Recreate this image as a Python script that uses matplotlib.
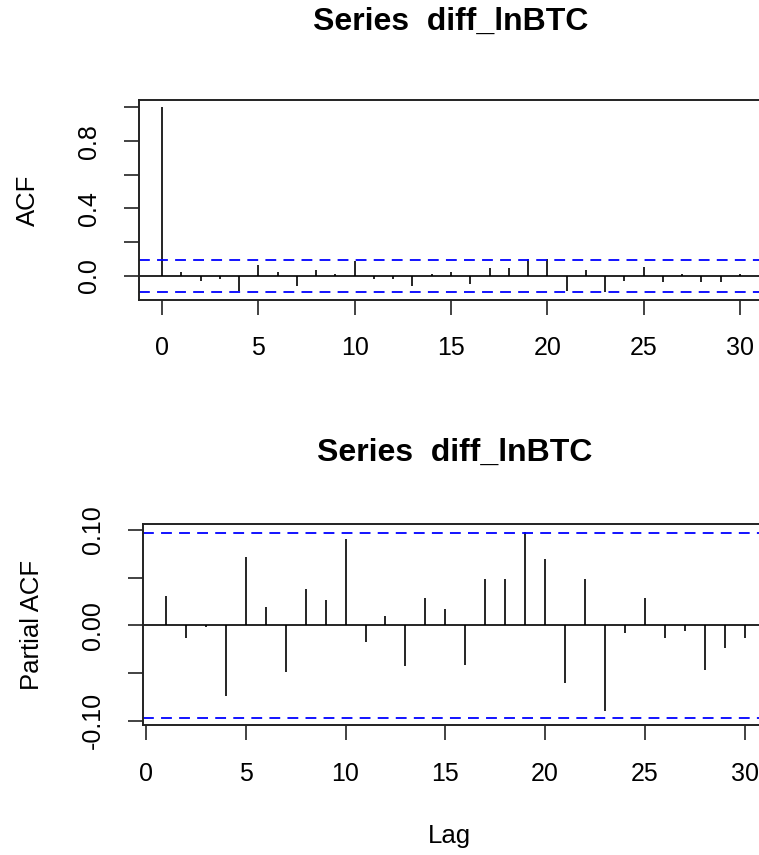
"""ACF / PACF of diff_lnBTC, redrawn in the style of R's acf() base graphics."""

import matplotlib
matplotlib.use("Agg")
import matplotlib.pyplot as plt

plt.rcParams["font.family"] = ["Liberation Sans", "DejaVu Sans"]

W, H, DPI = 759, 855, 100  # output pixels

# ---------------------------------------------------------------------------
# data
# ---------------------------------------------------------------------------
acf_lags = list(range(0, 31))
acf_vals = [1.0, 0.024, -0.028, -0.018, -0.090, 0.064, 0.024, -0.058, 0.032, 0.012,
            0.088, -0.018, -0.018, -0.058, 0.012, 0.024, -0.048, 0.044, 0.044, 0.097,
            0.097, -0.088, 0.032, -0.096, -0.028, 0.054, -0.038, 0.012, -0.038, -0.038,
            0.012]

pacf_lags = list(range(1, 31))
pacf_vals = [0.031, -0.013, -0.002, -0.074, 0.072, 0.019, -0.049, 0.038, 0.026, 0.090,
             -0.018, 0.010, -0.043, 0.029, 0.017, -0.042, 0.049, 0.049, 0.098, 0.069,
             -0.060, 0.049, -0.090, -0.008, 0.029, -0.013, -0.006, -0.047, -0.024, -0.013]

ci = 0.0967  # 1.96 / sqrt(n)

series_title = "Series  diff_lnBTC"
acf_yticks = [0.0, 0.2, 0.4, 0.6, 0.8, 1.0]
acf_ytick_labels = ["0.0", "", "0.4", "", "0.8", ""]
pacf_yticks = [-0.10, -0.05, 0.0, 0.05, 0.10]
pacf_ytick_labels = ["-0.10", "", "0.00", "", "0.10"]
xticks = [0, 5, 10, 15, 20, 25, 30]


def r_range(lo, hi):
    # R pads axis limits by 4% on each side
    pad = 0.04 * (hi - lo)
    return lo - pad, hi + pad


def px_axes(fig, left, top, width, height):
    return fig.add_axes([left / W, 1 - (top + height) / H, width / W, height / H])


def draw_panel(ax, lags, vals, yticks, ylabels):
    ax.vlines(lags, 0, vals, color="black", lw=1.2)
    ax.axhline(0, color="black", lw=1.2)
    for c in (ci, -ci):
        ax.axhline(c, color="blue", lw=1.3, dashes=(6, 4))
    ax.set_xlim(*r_range(min(lags), max(lags)))
    ax.set_ylim(*r_range(min(min(vals), -ci), max(max(vals), ci)))
    ax.set_xticks(xticks)
    ax.set_xticklabels([str(t) for t in xticks])
    ax.set_yticks(yticks)
    ax.set_yticklabels(ylabels, rotation=90, va="center", ha="right")
    ax.tick_params(axis="both", direction="out", length=10.5, width=1.2,
                   labelsize=18, color="#222222")
    ax.tick_params(axis="x", pad=16)
    ax.tick_params(axis="y", pad=17)
    for sp in ax.spines.values():
        sp.set_linewidth(1.4)
        sp.set_color("#222222")


fig = plt.figure(figsize=(W / DPI, H / DPI), dpi=DPI)

# top: ACF (plot box runs past the right edge, as in the reference crop)
ax1 = px_axes(fig, 139, 100, 624, 199.5)
draw_panel(ax1, acf_lags, acf_vals, acf_yticks, acf_ytick_labels)

# bottom: PACF
ax2 = px_axes(fig, 142.8, 524.3, 625, 200.7)
draw_panel(ax2, pacf_lags, pacf_vals, pacf_yticks, pacf_ytick_labels)

# titles and axis labels placed in pixel space
fig.text(451 / W, 1 - 30 / H, series_title, ha="center", va="baseline",
         fontsize=23, fontweight="bold")
fig.text(455 / W, 1 - 461 / H, series_title, ha="center", va="baseline",
         fontsize=23, fontweight="bold")
fig.text(28 / W, 1 - 200 / H, "ACF", rotation=90, ha="center", va="center", fontsize=18.5)
fig.text(32 / W, 1 - 625 / H, "Partial ACF", rotation=90, ha="center", va="center",
         fontsize=18.5)
fig.text(449 / W, 1 - 843 / H, "Lag", ha="center", va="baseline", fontsize=18.5)

fig.savefig("out.png", dpi=DPI, facecolor="white")
